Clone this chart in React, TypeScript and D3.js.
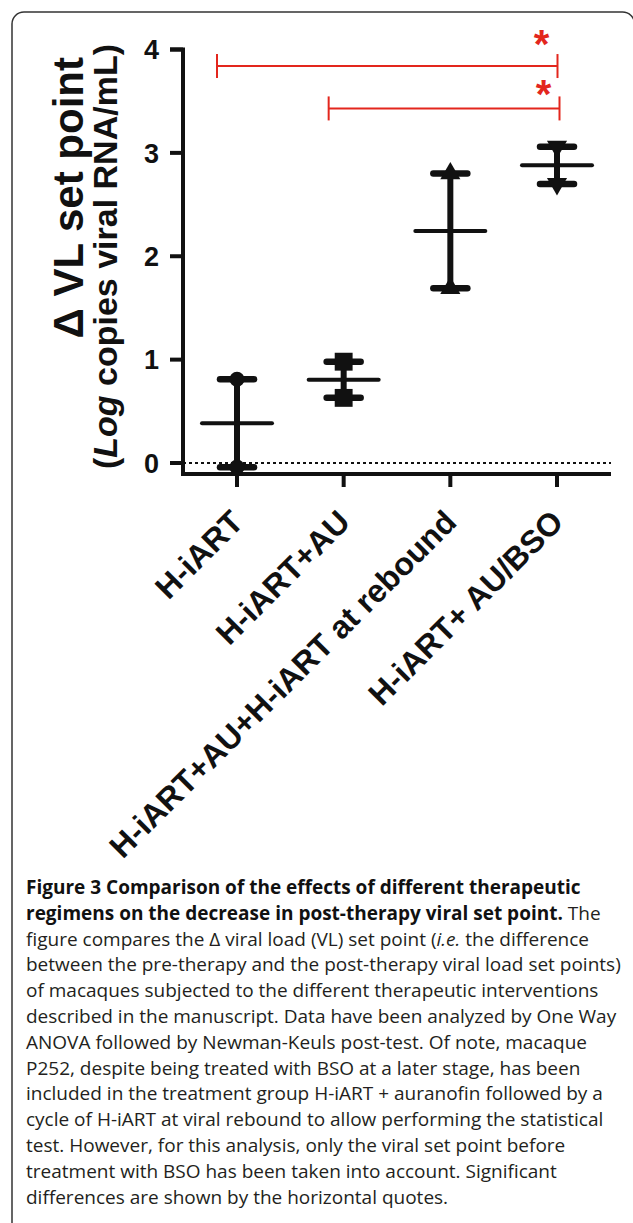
import React from "react";
import * as d3 from "d3";

// groups on the x axis
const categories = [
  "H-iART",
  "H-iART+AU",
  "H-iART+AU+H-iART at rebound",
  "H-iART+ AU/BSO",
];
// the two animals per group (upper and lower point)
const highValues = [0.81, 0.98, 2.8, 3.06];
const lowValues = [-0.04, 0.63, 1.69, 2.7];
const markerShapes = ["circle", "square", "triangleUp", "triangleDown"];

const yTicks = [0, 1, 2, 3, 4];

// significance brackets
const compareFrom = ["H-iART", "H-iART+AU"];
const compareTo = ["H-iART+ AU/BSO", "H-iART+ AU/BSO"];
const compareLevel = [3.84, 3.43];

const captionLines = [
  [{ t: "Figure 3 Comparison of the effects of different therapeutic", b: true }],
  [
    { t: "regimens on the decrease in post-therapy viral set point.", b: true },
    { t: " The" },
  ],
  [
    { t: "figure compares the Δ viral load (VL) set point (" },
    { t: "i.e.", i: true },
    { t: " the difference" },
  ],
  [{ t: "between the pre-therapy and the post-therapy viral load set points)" }],
  [{ t: "of macaques subjected to the different therapeutic interventions" }],
  [{ t: "described in the manuscript. Data have been analyzed by One Way" }],
  [{ t: "ANOVA followed by Newman-Keuls post-test. Of note, macaque" }],
  [{ t: "P252, despite being treated with BSO at a later stage, has been" }],
  [{ t: "included in the treatment group H-iART + auranofin followed by a" }],
  [{ t: "cycle of H-iART at viral rebound to allow performing the statistical" }],
  [{ t: "test. However, for this analysis, only the viral set point before" }],
  [{ t: "treatment with BSO has been taken into account. Significant" }],
  [{ t: "differences are shown by the horizontal quotes." }],
];

const W = 633;
const H = 1223;
const ink = "#111";
const red = "#e3261d";
const font = "'Liberation Sans', Arial, sans-serif";

const App = () => {
  const y = d3.scaleLinear().domain([0, 4]).range([463, 49.5]);
  const x = d3.scalePoint().domain(categories).range([237, 557]);
  const axisX = 183;
  const axisBottom = y(0) + 11;
  const axisRight = 611;

  const symbolFor = (shape: string) => {
    if (shape === "circle") return d3.symbol(d3.symbolCircle, 180)();
    if (shape === "square") return d3.symbol(d3.symbolSquare, 320)();
    return d3.symbol(d3.symbolTriangle, 175)();
  };

  return (
    <div style={{ position: "absolute", left: 0, top: 0 }}>
      <svg width={W} height={H} style={{ display: "block", background: "#fff" }}>
        <rect x={12} y={12} width={622.5} height={1240} rx={12} fill="none" stroke="#333" strokeWidth={1.5} />

        {/* y axis title */}
        <text
          transform={`translate(83,57) rotate(-90)`}
          textAnchor="end"
          fontFamily={font}
          fontWeight="bold"
          fontSize={42}
          fill={ink}
        >
          Δ VL set point
        </text>
        <text
          transform={`translate(117,44) rotate(-90)`}
          textAnchor="end"
          fontFamily={font}
          fontWeight="bold"
          fontSize={34}
          fill={ink}
        >
          (<tspan fontStyle="italic">Log</tspan> copies viral RNA/mL)
        </text>

        {/* zero reference */}
        <line x1={axisX} x2={axisRight} y1={y(0)} y2={y(0)} stroke={ink} strokeWidth={2} strokeDasharray="3,3" />

        {/* axes */}
        <path
          d={`M${axisX - 13},${y(4)}H${axisX}V${axisBottom}H${axisRight}`}
          fill="none"
          stroke={ink}
          strokeWidth={4}
          strokeLinejoin="miter"
        />
        {yTicks.map((t) => (
          <g key={t}>
            <line x1={axisX - 13} x2={axisX} y1={y(t)} y2={y(t)} stroke={ink} strokeWidth={4} />
            <text
              x={axisX - 24}
              y={y(t)}
              dy="0.36em"
              textAnchor="end"
              fontFamily={font}
              fontWeight="bold"
              fontSize={27}
              fill={ink}
            >
              {t}
            </text>
          </g>
        ))}
        {categories.map((c) => (
          <g key={c}>
            <line x1={x(c)} x2={x(c)} y1={axisBottom} y2={axisBottom + 13} stroke={ink} strokeWidth={4} />
            <text
              transform={`translate(${(x(c) as number) + 8.1},524) rotate(-45)`}
              textAnchor="end"
              fontFamily={font}
              fontWeight="bold"
              fontSize={32}
              fill={ink}
            >
              {c}
            </text>
          </g>
        ))}

        {/* data: range bars, mean lines and points */}
        {categories.map((c, i) => {
          const cx = x(c) as number;
          const vals = [highValues[i], lowValues[i]];
          const mean = d3.mean(vals) as number;
          const shape = markerShapes[i];
          return (
            <g key={c}>
              <line x1={cx} x2={cx} y1={y(lowValues[i])} y2={y(highValues[i])} stroke={ink} strokeWidth={6} />
              {vals.map((v, j) => (
                <line
                  key={j}
                  x1={cx - 17}
                  x2={cx + 17}
                  y1={y(v)}
                  y2={y(v)}
                  stroke={ink}
                  strokeWidth={6.5}
                  strokeLinecap="round"
                />
              ))}
              {vals.map((v, j) => (
                <path
                  key={"m" + j}
                  d={symbolFor(shape) as string}
                  transform={`translate(${cx},${y(v)})${shape === "triangleDown" ? " rotate(180)" : ""}`}
                  fill={ink}
                />
              ))}
              <line x1={cx - 35} x2={cx + 35} y1={y(mean)} y2={y(mean)} stroke={ink} strokeWidth={4} strokeLinecap="round" />
            </g>
          );
        })}

        {/* significance */}
        {compareLevel.map((lv, i) => {
          const x1 = (x(compareFrom[i]) as number) - (i === 0 ? 20 : 15);
          const x2 = (x(compareTo[i]) as number) + (i === 0 ? 0.5 : 2.5);
          const yy = y(lv);
          const lift = i === 0 ? 28 : 20;
          return (
            <g key={i} stroke={red} strokeWidth={2} fill="none">
              <line x1={x1} x2={x2} y1={yy} y2={yy} />
              <line x1={x1} x2={x1} y1={yy - 12} y2={yy + 12} />
              <line x1={x2} x2={x2} y1={yy - 12} y2={yy + 12} />
              <text
                x={x2 - 16}
                y={yy - lift + 20}
                textAnchor="middle"
                fontFamily={font}
                fontWeight="bold"
                fontSize={40}
                fill={red}
                stroke="none"
              >
                *
              </text>
            </g>
          );
        })}

        {/* caption */}
        <text fontFamily="'Open Sans', sans-serif" fontSize={19} fill="#231f20">
          {captionLines.map((line, i) => (
            <tspan key={i} x={26} y={894 + i * 25.8}>
              {line.map((s: any, j) => (
                <tspan key={j} fontWeight={s.b ? "bold" : "normal"} fontStyle={s.i ? "italic" : "normal"} fill={s.b ? "#111" : "#231f20"}>
                  {s.t}
                </tspan>
              ))}
            </tspan>
          ))}
        </text>
      </svg>
    </div>
  );
};

export default App;
